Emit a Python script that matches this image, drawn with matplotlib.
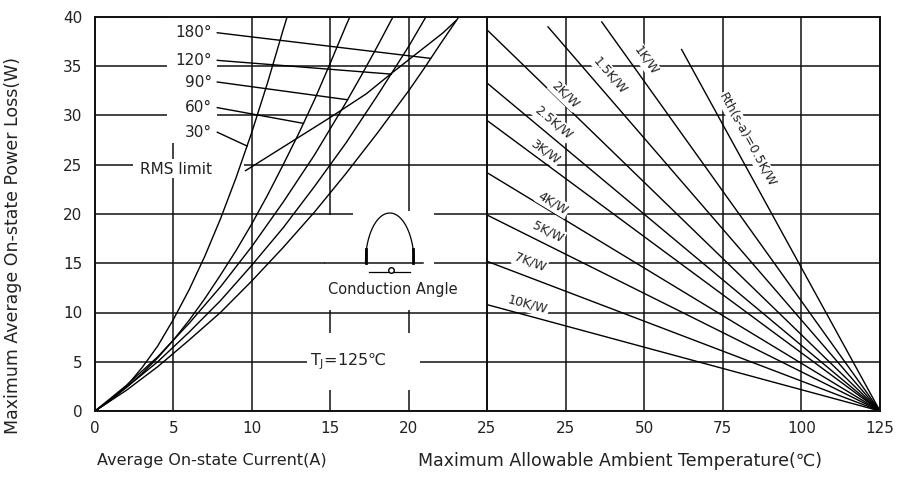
import numpy as np
import matplotlib
matplotlib.use("Agg")
import matplotlib.pyplot as plt
from matplotlib.patches import Rectangle

plt.rcParams['font.family'] = ['DejaVu Sans']

# left panel: power loss vs average current, one curve per conduction angle
angle_labels = ['30°', '60°', '90°', '120°', '180°']
c30_I = [0, 1, 2, 3, 4, 5, 6, 7, 8, 9, 10, 11, 12, 12.25]
c30_P = [0, 1.1, 2.5, 4.4, 6.6, 9.3, 12.3, 15.7, 19.5, 23.7, 28.3, 33.3, 38.7, 40.0]
c60_I = [0, 1, 2, 3, 4, 5, 6, 7, 8, 9, 10, 11, 12, 13, 14, 15, 16, 16.25]
c60_P = [0, 1.1, 2.4, 3.8, 5.4, 7.2, 9.2, 11.4, 13.8, 16.3, 19.0, 21.9, 25.0,
         28.2, 31.6, 35.3, 39.1, 40.0]
c90_I = [0, 2, 4, 6, 8, 10, 12, 14, 16, 17, 18, 19.0]
c90_P = [0, 2.6, 5.5, 8.9, 12.6, 16.7, 21.2, 26.0, 31.3, 34.1, 37.0, 40.0]
c120_I = [0, 2, 4, 6, 8, 10, 12, 14, 16, 18, 19, 20, 21.1]
c120_P = [0, 2.4, 5.0, 8.0, 11.2, 14.8, 18.6, 22.8, 27.2, 32.0, 34.5, 37.0, 40.0]
c180_I = [0, 2, 4, 6, 8, 10, 12, 14, 16, 18, 20, 21, 22, 23.2]
c180_P = [0, 2.1, 4.5, 7.2, 10.0, 13.2, 16.6, 20.2, 24.1, 28.2, 32.5, 34.8, 37.2, 40.0]

# label rows and where each leader touches its curve
label_P = [28.3, 30.8, 33.4, 35.6, 38.4]
leader_end_I = [9.7, 13.3, 16.1, 18.9, 21.4]
leader_end_P = [26.9, 29.2, 31.6, 34.2, 35.8]

# RMS limit line
rms_I = [9.6, 12.4, 15.0, 17.3, 19.0, 22.2, 23.0]
rms_P = [24.4, 27.2, 29.8, 32.2, 34.4, 38.4, 39.6]

# right panel: allowable ambient temperature, lines end at Tj = 125
tj = 125
r_labels = ['Rth(s-a)=0.5K/W', '1K/W', '1.5K/W', '2K/W', '2.5K/W',
            '3K/W', '4K/W', '5K/W', '7K/W', '10K/W']
r_start_T = [61.9, 36.5, 19.4, 0, 0, 0, 0, 0, 0, 0]
r_start_P = [36.7, 39.5, 39.0, 38.7, 33.3, 29.5, 24.2, 19.9, 15.2, 10.8]
r_lab_T = [83.0, 50.5, 39.1, 24.8, 21.0, 18.4, 21.0, 19.4, 13.7, 13.0]
r_lab_P = [27.5, 35.6, 34.1, 32.1, 29.3, 26.3, 21.1, 18.2, 15.1, 10.8]

cur_ticks = [0, 5, 10, 15, 20, 25]
temp_ticks = [0, 25, 50, 75, 100, 125]
temp_ticklabels = ['', '25', '50', '75', '100', '125']
p_ticks = [0, 5, 10, 15, 20, 25, 30, 35, 40]

W, H = 901, 488
fig = plt.figure(figsize=(W / 100, H / 100), dpi=100)
axL = fig.add_axes([95 / W, 77 / H, 392 / W, 394 / H])
axR = fig.add_axes([487 / W, 77 / H, 393 / W, 394 / H])

ink = '#111111'
for ax in (axL, axR):
    ax.set_ylim(0, 40)
    ax.set_yticks(p_ticks)
    ax.set_axisbelow(True)
    ax.grid(True, color=ink, lw=1.1)
    for s in ax.spines.values():
        s.set_linewidth(1.4)
        s.set_color(ink)
    ax.tick_params(length=0, labelsize=11, colors='#222222')
    ax.tick_params(axis='y', pad=9)
    ax.tick_params(axis='x', pad=7)

axL.set_xlim(0, 25)
axL.set_xticks(cur_ticks)
axR.set_xlim(0, 125)
axR.set_xticks(temp_ticks)
axR.set_xticklabels(temp_ticklabels)
axR.tick_params(labelleft=False)

# ---- left panel
for I, P in [(c30_I, c30_P), (c60_I, c60_P), (c90_I, c90_P),
             (c120_I, c120_P), (c180_I, c180_P)]:
    axL.plot(I, P, color='black', lw=1.0, zorder=2)

axL.plot(rms_I, rms_P, color='black', lw=1.0, zorder=2)

# white ground behind the angle labels
axL.add_patch(Rectangle((4.6, 27.2), 3.2, 12.75, facecolor='white',
                        edgecolor='none', zorder=1))
for lab, py, ex, ey in zip(angle_labels, label_P, leader_end_I, leader_end_P):
    axL.text(7.45, py, lab, ha='right', va='center', fontsize=11,
             color='#222222', zorder=3)
    axL.plot([7.8, ex], [py, ey], color='black', lw=1.0, zorder=2)

axL.add_patch(Rectangle((2.4, 23.7), 7.1, 1.9, facecolor='white',
                        edgecolor='none', zorder=1))
axL.text(2.9, 24.5, 'RMS limit', ha='left', va='center', fontsize=11,
         color='#222222', zorder=3)

# conduction angle sketch
axL.add_patch(Rectangle((14.7, 10.3), 6.9, 9.55, facecolor='white',
                        edgecolor='none', zorder=1))
axL.add_patch(Rectangle((16.45, 19.8), 5.15, 0.5, facecolor='white',
                        edgecolor='none', zorder=1))
axL.plot([14.7, 20.92], [15, 15], color=ink, lw=1.1, zorder=2)
ic = 18.8
t = np.linspace(0, np.pi, 60)
axL.plot(ic - 1.55 * np.cos(t), 15 + 5.1 * np.sin(t), color='black',
         lw=0.9, zorder=2)
for sx in (ic - 1.5, ic + 1.5):
    axL.plot([sx, sx], [15, 16.4], color='black', lw=2, zorder=2)
axL.plot([ic - 1.3, ic + 1.3], [14.1, 14.1], color='black', lw=0.9, zorder=2)
axL.plot([ic + 0.1], [14.35], marker='o', ms=4, mfc='white', mec='black',
         mew=1, zorder=3)
axL.text(19.0, 12.3, 'Conduction Angle', ha='center', va='center',
         fontsize=10.5, color='#222222', zorder=3)

axL.add_patch(Rectangle((13.5, 2.1), 7.2, 5.8, facecolor='white',
                        edgecolor='none', zorder=1))
axL.text(13.7, 5.0, 'T$_\\mathregular{J}$=125℃', ha='left', va='center',
         fontsize=11.5, color='#222222', zorder=3)

# ---- right panel
for t0, p0, lab, lt, lp in zip(r_start_T, r_start_P, r_labels, r_lab_T, r_lab_P):
    axR.plot([t0, tj], [p0, 0], color='black', lw=1.0, zorder=2)
    (x0, y0), (x1, y1) = axR.transData.transform([(t0, p0), (tj, 0)])
    ang = np.degrees(np.arctan2(y1 - y0, x1 - x0))
    axR.text(lt, lp, lab, ha='center', va='center', rotation=ang,
             rotation_mode='anchor', fontsize=9, color='#222222', zorder=3,
             bbox=dict(facecolor='white', edgecolor='none', pad=1.0))

# ---- axis titles
fig.text(97 / W, 1 - 461 / H, 'Average On-state Current(A)', ha='left',
         va='center', fontsize=11.5, color='#222222')
fig.text(418 / W, 1 - 461 / H, 'Maximum Allowable Ambient Temperature(℃)',
         ha='left', va='center', fontsize=12.5, color='#222222')
fig.text(13 / W, 1 - 245 / H, 'Maximum Average On-state Power Loss(W)',
         rotation=90, ha='center', va='center', fontsize=12.5, color='#222222')

fig.savefig('out.png', dpi=100)
